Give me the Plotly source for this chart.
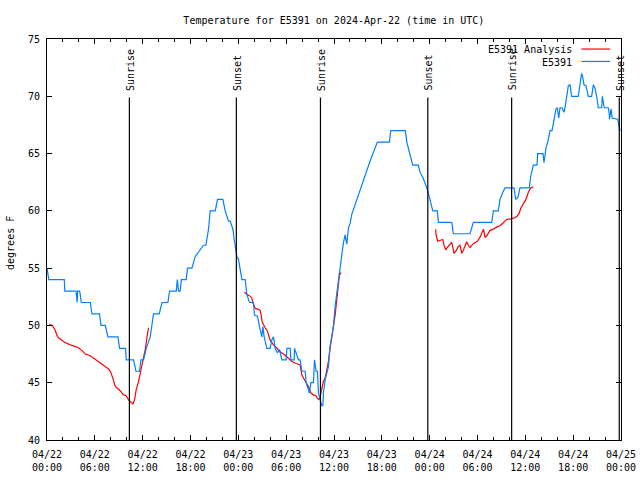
import pandas as pd
import plotly.graph_objects as go

BASE = pd.Timestamp("2024-04-22 00:00")

# E5391 observations: hours since 04/22 00:00 UTC, temperature (F)
obs_hours = [0.0, 0.23, 2.17, 2.23, 3.64, 3.71, 3.79, 3.84, 4.09, 4.17, 4.30, 5.43, 5.64, 6.59, 6.77,
             7.31, 7.65, 8.90, 9.10, 9.85, 9.94, 10.86, 11.16, 11.61, 11.78, 12.11, 12.45, 12.95, 13.36,
             14.08, 14.42, 15.17, 15.37, 16.21, 16.35, 16.5, 16.7, 16.85, 17.46, 17.63, 18.18, 18.59,
             19.63, 19.93, 20.26, 20.47, 21.1, 21.39, 22.06, 22.35, 22.77, 22.98, 23.32, 23.48, 23.69,
             23.82, 24.02, 24.23, 24.45, 24.86, 25.07, 25.40, 25.90, 26.02, 26.40, 26.65, 26.95, 27.08,
             27.24, 27.58, 27.99, 28.21, 28.41, 28.62, 28.91, 29.16, 29.46, 30.0, 30.09, 30.5, 30.59,
             31.0, 31.05, 31.25, 31.54, 31.75, 31.97, 32.38, 32.51, 32.92, 33.10, 33.42, 33.55, 33.76,
             33.92, 34.05, 34.26, 34.47, 34.6, 34.67, 34.89, 35.10, 35.30, 35.51, 35.73, 35.93, 36.14,
             36.35, 36.55, 36.77, 36.98, 37.18, 37.39, 37.6, 37.81, 38.02, 38.23, 38.43, 38.86, 39.28,
             39.69, 40.11, 40.53, 40.94, 41.44, 42.95, 43.12, 44.95, 45.13, 45.46, 45.88, 46.58, 46.79,
             47.21, 47.64, 47.96, 48.39, 48.97, 49.09, 50.77, 50.97, 53.06, 53.48, 55.79, 55.99, 56.61,
             56.82, 57.16, 57.45, 58.58, 58.79, 59.08, 59.33, 60.5, 60.67, 61.0, 61.46, 61.55, 62.22,
             62.34, 62.59, 62.81, 63.1, 63.35, 63.6, 63.85, 64.01, 64.19, 64.35, 64.6, 64.85, 64.98,
             65.19, 65.39, 65.6, 65.81, 66.64, 66.85, 67.06, 67.19, 67.36, 67.61, 67.9, 68.32, 68.53,
             68.74, 68.95, 69.15, 69.58, 69.65, 69.77, 69.9, 70.4, 70.53, 70.55, 70.76, 70.89, 71.59,
             71.8, 71.92]
obs_temp = [55.0, 54.0, 54.0, 53.0, 53.0, 52.0, 52.0, 53.0, 53.0, 52.7, 52.0, 52.0, 51.0, 51.0, 50.0,
            50.0, 49.0, 49.0, 48.0, 48.0, 47.0, 47.0, 46.0, 46.0, 47.0, 47.0, 48.0, 49.0, 51.0,
            51.0, 52.0, 52.0, 53.0, 53.0, 54.0, 53.0, 53.0, 54.0, 54.0, 55.0, 55.0, 56.0,
            57.0, 57.0, 58.4, 60.0, 60.0, 61.0, 61.0, 60.0, 59.1, 59.1, 58.4, 57.5, 56.6,
            56.0, 55.75, 54.9, 54.0, 54.0, 52.7, 52.0, 52.0, 50.9, 50.8, 49.9, 49.0, 49.9,
            49.0, 48.0, 48.0, 48.75, 49.0, 48.0, 47.6, 47.9, 47.0, 47.0, 48.0, 48.0, 47.0,
            47.0, 48.0, 47.6, 47.0, 47.0, 46.0, 46.0, 45.0, 44.1, 45.0, 45.0, 47.0, 46.0,
            46.0, 44.1, 43.5, 43.0, 43.0, 44.1, 45.25, 46.0, 46.4, 48.2, 49.3, 49.9, 51.7,
            52.8, 54.0, 55.2, 56.5, 57.2, 57.9, 57.1, 58.5, 58.9, 59.7, 60.1, 61.15, 62.0,
            62.75, 63.5, 64.35, 65.1, 66.0, 66.0, 67.0, 67.0, 66.0, 65.1, 64.0, 64.0, 63.4,
            62.8, 62.0, 61.2, 60.0, 60.0, 59.0, 59.0, 58.0, 58.0, 59.0, 59.0, 60.0, 60.0,
            61.0, 61.6, 62.0, 62.0, 61.0, 61.2, 62.0, 62.0, 63.0, 64.0, 64.0, 65.0, 65.0,
            64.2, 65.5, 66.0, 67.0, 67.0, 68.0, 68.9, 69.0, 68.1, 69.0, 69.0, 68.6, 69.0,
            70.0, 70.9, 71.0, 70.0, 70.0, 71.0, 72.0, 71.7, 71.0, 70.9, 70.0, 70.0, 71.0,
            70.7, 70.0, 69.0, 69.0, 70.0, 69.6, 69.0, 69.0, 68.5, 68.0, 68.9, 68.1, 68.0,
            67.2, 67.0]

# E5391 Analysis: three separate runs (None = gap)
ana_hours = [0.3, 0.68, 1.0, 1.3, 1.75, 2.17, 2.92, 3.55, 3.84, 4.4, 4.8, 5.43, 5.84, 6.34, 6.77, 7.31,
             7.72, 8.02, 8.27, 8.56, 8.85, 9.19, 9.52, 9.94, 10.23, 10.53, 10.78, 10.98, 11.19, 11.48,
             11.7, 12.03, 12.32, 12.53, 12.73,
             None,
             24.77, 25.07, 25.40, 25.69, 25.82, 26.11, 26.52, 26.75, 26.86, 26.99, 27.36, 27.65, 27.9,
             28.08, 28.41, 28.83, 29.25, 29.87, 30.29, 30.71, 31.33, 31.75, 31.96, 32.17, 32.5, 32.8,
             33.1, 33.42, 33.76, 33.92, 34.1, 34.3, 34.47, 34.67, 34.89, 35.1, 35.3, 35.51, 35.73,
             35.93, 36.14, 36.35, 36.55, 36.68, 36.9,
             None,
             48.76, 48.8, 49.01, 49.3, 49.64, 49.8, 50.01, 50.2, 50.55, 50.77, 50.9, 51.06, 51.3, 51.6,
             51.8, 52.03, 52.25, 52.45, 52.65, 52.85, 53.06, 53.4, 53.69, 53.98, 54.32, 54.74, 54.95,
             55.16, 55.58, 55.99, 56.41, 56.82, 57.24, 57.65, 58.16, 58.7, 58.99, 59.24, 59.41, 59.74,
             60.08, 60.37, 60.67, 61.0]
ana_temp = [50.1, 50.0, 49.6, 49.05, 48.75, 48.55, 48.3, 48.2, 48.1, 47.8, 47.5, 47.35, 47.15, 46.94,
            46.7, 46.4, 46.2, 45.9, 45.4, 44.7, 44.5, 44.3, 44.0, 43.85, 43.5, 43.26, 43.15, 43.5, 44.4,
            45.1, 45.8, 46.85, 47.9, 48.9, 49.8,
            None,
            52.9, 52.7, 52.6, 52.4, 52.0, 51.5, 51.4, 51.3, 50.9, 50.3, 49.8, 49.5, 48.9, 48.6, 48.3,
            48.0, 47.7, 47.4, 47.15, 46.85, 46.65, 46.56, 45.7, 45.4, 45.0, 44.66, 44.1, 43.94, 43.85,
            43.65, 43.5, 43.9, 44.5, 45.1, 45.4, 46.0, 46.85, 48.0, 48.9, 49.8, 50.9, 52.25, 53.4,
            54.4, 54.6,
            None,
            58.4, 57.9, 57.35, 57.4, 57.5, 57.0, 56.6, 56.8, 57.1, 57.26, 56.8, 56.3, 56.5, 56.9, 57.0,
            56.3, 56.6, 56.9, 57.3, 57.0, 56.8, 57.1, 57.26, 57.35, 57.7, 58.4, 57.7, 57.8, 58.3, 58.4,
            58.6, 58.7, 58.96, 59.25, 59.3, 59.4, 59.55, 59.8, 60.2, 60.56, 61.0, 61.6, 62.0, 62.1]

# Sun events (UTC)
sun_names = ["Sunrise", "Sunset", "Sunrise", "Sunset", "Sunrise", "Sunset"]
sun_times = ["2024-04-22 10:20", "2024-04-22 23:45", "2024-04-23 10:18",
             "2024-04-23 23:46", "2024-04-24 10:17", "2024-04-24 23:47"]

series_names = ["E5391 Analysis", "E5391"]
series_colors = ["#ff0000", "#0080ff"]

title_text = "Temperature for E5391 on 2024-Apr-22 (time in UTC)"
y_title = "degrees F"


def to_time(hours):
    return [None if h is None else BASE + pd.Timedelta(hours=h) for h in hours]


FONT = "DejaVu Sans Mono"
fig = go.Figure()
fig.add_trace(go.Scatter(x=to_time(ana_hours), y=ana_temp, mode="lines", name=series_names[0],
                         line=dict(color=series_colors[0], width=1.2), connectgaps=False,
                         showlegend=False))
fig.add_trace(go.Scatter(x=to_time(obs_hours), y=obs_temp, mode="lines", name=series_names[1],
                         line=dict(color=series_colors[1], width=1.2), showlegend=False))

for name, t in zip(sun_names, sun_times):
    fig.add_shape(type="line", x0=t, x1=t, y0=40, y1=69.9, xref="x", yref="y",
                  line=dict(color="black", width=1.2))
    fig.add_annotation(x=t, y=70.4, xref="x", yref="y", text=name, textangle=-90,
                       showarrow=False, xanchor="center", yanchor="bottom", xshift=1,
                       font=dict(family=FONT, size=10, color="black"), borderpad=0)

# gnuplot-style key (text then line sample), top right inside the plot
key_y = [0.973, 0.942]
for name, color, ky in zip(series_names, series_colors, key_y):
    fig.add_annotation(x=0.918, y=ky, xref="paper", yref="paper", text=name, showarrow=False,
                       xanchor="right", yanchor="middle",
                       font=dict(family=FONT, size=10, color="black"))
    fig.add_shape(type="line", x0=0.931, x1=0.981, y0=ky + 0.002, y1=ky + 0.002,
                  xref="paper", yref="paper", line=dict(color=color, width=1.2))

fig.add_annotation(x=-0.064, y=0.492, xref="paper", yref="paper", text=y_title, textangle=-90,
                   showarrow=False, xanchor="center", yanchor="middle",
                   font=dict(family=FONT, size=10, color="black"))

fig.update_layout(
    width=640, height=480,
    margin=dict(l=47, r=19, t=39, b=40, autoexpand=False),
    paper_bgcolor="white", plot_bgcolor="white",
    font=dict(family=FONT, size=10, color="black"),
    title=dict(text=title_text, x=0.5217, xanchor="center", y=1 - 20 / 480, yanchor="middle",
               xref="container", yref="container",
               font=dict(family=FONT, size=10, color="black")),
    showlegend=False,
)
fig.update_xaxes(
    type="date", range=["2024-04-22 00:00", "2024-04-25 00:00"], automargin=False,
    dtick=6 * 3600 * 1000, tick0="2024-04-22 00:00", tickformat="%m/%d<br>%H:%M",
    ticks="inside", ticklen=5, tickcolor="black", showline=True, linecolor="black", linewidth=1,
    mirror="allticks", showgrid=False, zeroline=False,
    minor=dict(dtick=2 * 3600 * 1000, ticks="inside", ticklen=3, tickcolor="black", showgrid=False),
    tickfont=dict(family=FONT, size=10, color="black"), ticklabelstandoff=5,
)
fig.update_yaxes(
    range=[40, 75], dtick=5, tick0=40, automargin=False,
    ticks="inside", ticklen=5, tickcolor="black", showline=True, linecolor="black", linewidth=1,
    mirror="allticks", showgrid=False, zeroline=False,
    tickfont=dict(family=FONT, size=10, color="black"), ticklabelstandoff=4,
)

fig.write_html("out.html")
